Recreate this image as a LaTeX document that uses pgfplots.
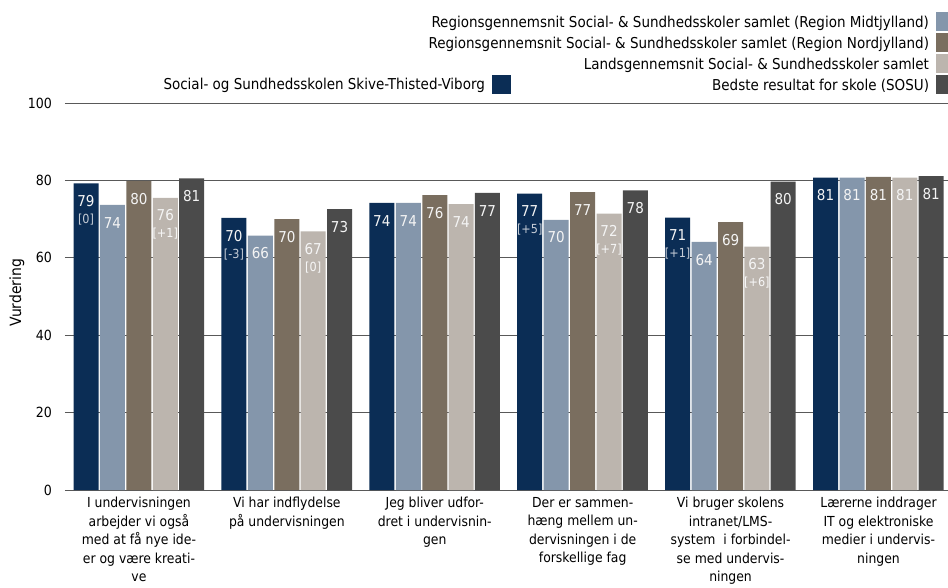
\documentclass[border=0pt]{standalone}
\usepackage{pgfplots}
\pgfplotsset{compat=1.18}
\usepackage{pgfplotstable}
\usepackage{fontspec}
\setmainfont{DejaVu Sans Condensed}
\definecolor{c1}{HTML}{0B2D55}
\definecolor{c2}{HTML}{8496AB}
\definecolor{c3}{HTML}{7A6E5F}
\definecolor{c4}{HTML}{BCB5AE}
\definecolor{c5}{HTML}{4B4B4B}
\definecolor{gridc}{HTML}{595959}
\definecolor{lab}{HTML}{F4F4F4}
\definecolor{brkA}{HTML}{C5CCD6}
\definecolor{brkB}{HTML}{F7F7F7}

\pgfplotstableread{
x y lab
-0.358 79.2 79
0.642 70.3 70
1.642 74.2 74
2.642 76.6 77
3.642 70.4 71
4.642 80.7 81
}\sone
\pgfplotstableread{
x y lab
-0.179 73.7 74
0.821 65.7 66
1.821 74.2 74
2.821 69.8 70
3.821 64.1 64
4.821 80.7 81
}\stwo
\pgfplotstableread{
x y lab
0 79.8 80
1 70.0 70
2 76.2 76
3 77.0 77
4 69.2 69
5 80.9 81
}\sthree
\pgfplotstableread{
x y lab
0.178 75.5 76
1.178 66.8 67
2.178 73.9 74
3.178 71.4 72
4.178 62.9 63
5.178 80.7 81
}\sfour
\pgfplotstableread{
x y lab
0.356 80.5 81
1.356 72.6 73
2.356 76.8 77
3.356 77.4 78
4.356 79.7 80
5.356 81.1 81
}\sfive
\pgfplotstableread{
x y lab
-0.358 79.2 {[0]}
0.642 70.3 {[-3]}
2.642 76.6 {[+5]}
3.642 70.4 {[+1]}
}\sonebr
\pgfplotstableread{
x y lab
0.178 75.5 {[+1]}
1.178 66.8 {[0]}
3.178 71.4 {[+7]}
4.178 62.9 {[+6]}
}\sfourbr

\pgfplotsset{
  valbar/.style={ybar, bar width=0.169, bar shift=0, draw=none, forget plot,
    point meta=explicit symbolic, nodes near coords,
    nodes near coords style={anchor=south, inner sep=0pt, yshift=-23.5pt,
      font=\fontsize{15}{18}\selectfont, text=lab}},
  brk/.style={ybar, bar width=0.169, bar shift=0, draw=none, fill=none, forget plot,
    point meta=explicit symbolic, nodes near coords,
    nodes near coords style={anchor=south, inner sep=0pt, yshift=-42pt,
      font=\fontsize{12.5}{14}\selectfont, text=#1}},
  mylegend/.style={
    legend plot pos=right,
    legend cell align=right,
    legend image code/.code={\fill[##1] (0pt,-9.5pt) rectangle (19pt,9.5pt);},
    legend style={draw=none, fill=none, inner sep=0pt, outer sep=0pt,
      font=\fontsize{15}{18}\selectfont, row sep=2pt,
      nodes={inner sep=0pt, text height=15pt, text depth=4pt},
      /tikz/every odd column/.append style={column sep=7pt}}},
}

\begin{document}
\begin{tikzpicture}
\path[use as bounding box] (0pt,0pt) rectangle (948pt,587pt);
\begin{axis}[
  at={(65pt,97pt)}, anchor=south west,
  scale only axis, width=883pt, height=387pt,
  xmin=-0.5, xmax=5.47, ymin=0, ymax=100,
  axis line style={draw=none},
  major tick length=0pt,
  ytick={0,20,...,100},
  /pgf/number format/assume math mode=true,
  ymajorgrids, grid style={gridc, line width=0.8pt},
  xtick={0,1,2,3,4,5},
  xticklabels={
    {I undervisningen\\arbejder vi også\\med at få nye ide-\\er og være kreati-\\ve},
    {Vi har indflydelse\\på undervisningen},
    {Jeg bliver udfor-\\dret i undervisnin-\\gen},
    {Der er sammen-\\hæng mellem un-\\dervisningen i de\\forskellige fag},
    {Vi bruger skolens\\intranet/LMS-\\system\ \ i forbindel-\\se med undervis-\\ningen},
    {Lærerne inddrager\\IT og elektroniske\\medier i undervis-\\ningen}},
  xticklabel style={align=center, font=\fontsize{13.8}{18.5}\selectfont, anchor=north, inner sep=0pt, yshift=-7pt},
  yticklabel style={font=\fontsize{14}{16}\selectfont, inner sep=0pt, xshift=-13pt},
  ylabel={Vurdering},
  ylabel style={font=\fontsize{15.5}{18}\selectfont, at={(axis description cs:-0.0544,0.51)}, anchor=center},
  mylegend,
  legend style={at={(1.008,1.2351)}, anchor=north east},
]
\addplot[valbar, fill=c1] table[x=x, y=y, meta=lab] {\sone};
\addplot[valbar, fill=c2] table[x=x, y=y, meta=lab] {\stwo};
\addplot[valbar, fill=c3] table[x=x, y=y, meta=lab] {\sthree};
\addplot[valbar, fill=c4] table[x=x, y=y, meta=lab] {\sfour};
\addplot[valbar, fill=c5] table[x=x, y=y, meta=lab] {\sfive};
\addplot[brk=brkA] table[x=x, y=y, meta=lab] {\sonebr};
\addplot[brk=brkB] table[x=x, y=y, meta=lab] {\sfourbr};
\addlegendimage{fill=c2, draw=none}
\addlegendentry{Regionsgennemsnit Social- \& Sundhedsskoler samlet (Region Midtjylland)}
\addlegendimage{fill=c3, draw=none}
\addlegendentry{Regionsgennemsnit Social- \& Sundhedsskoler samlet (Region Nordjylland)}
\addlegendimage{fill=c4, draw=none}
\addlegendentry{Landsgennemsnit Social- \& Sundhedsskoler samlet}
\addlegendimage{fill=c5, draw=none}
\addlegendentry{Bedste resultat for skole (SOSU)}
\end{axis}
\begin{axis}[
  at={(65pt,97pt)}, anchor=south west,
  scale only axis, width=883pt, height=387pt,
  hide axis, xmin=0, xmax=1, ymin=0, ymax=1,
  mylegend,
  legend style={at={(0.505,1.0724)}, anchor=north east},
]
\addlegendimage{fill=c1, draw=none}
\addlegendentry{Social- og Sundhedsskolen Skive-Thisted-Viborg}
\end{axis}
\end{tikzpicture}
\end{document}
